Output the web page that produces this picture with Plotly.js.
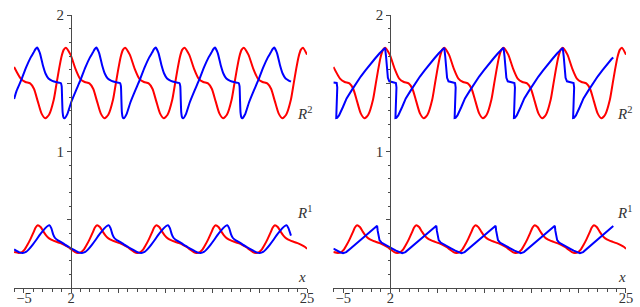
<!DOCTYPE html>
<html>
<head>
<meta charset="utf-8">
<script src="https://cdn.plot.ly/plotly-3.0.1.min.js"></script>
<style>
  html, body { margin: 0; padding: 0; background: #fff; }
  #chart { width: 640px; height: 307px; }
</style>
</head>
<body>
<div id="chart"></div>
<script>
// ---------- Data ----------
// Red curves (identical in both panels)
const redR2_x = [-6.04, -5.34, -4.84, -4.34, -3.94, -3.54, -3.14, -2.74, -2.34, -1.84, -1.54, -1.29, -1.04, -0.79,
  -0.56, -0.06, 0.44, 0.94, 1.44, 1.94, 2.34, 2.74, 3.14, 3.54, 3.94, 4.44, 4.74, 4.99, 5.24, 5.49,
  5.72, 6.22, 6.72, 7.22, 7.72, 8.22, 8.62, 9.02, 9.42, 9.82, 10.22, 10.72, 11.02, 11.27, 11.52, 11.77,
  12.01, 12.51, 13.01, 13.51, 14.01, 14.51, 14.91, 15.31, 15.71, 16.11, 16.51, 17.01, 17.31, 17.56, 17.81, 18.06,
  18.29, 18.79, 19.29, 19.79, 20.29, 20.79, 21.19, 21.59, 21.99, 22.39, 22.79, 23.29, 23.59, 23.84, 24.09, 24.34,
  24.57, 25.0];
const redR2_y = [1.62, 1.535, 1.51, 1.50, 1.46, 1.37, 1.28, 1.244, 1.27, 1.38, 1.50, 1.60, 1.69, 1.745,
  1.761, 1.71, 1.61, 1.535, 1.51, 1.50, 1.46, 1.37, 1.28, 1.244, 1.27, 1.38, 1.50, 1.60, 1.69, 1.745,
  1.761, 1.71, 1.61, 1.535, 1.51, 1.50, 1.46, 1.37, 1.28, 1.244, 1.27, 1.38, 1.50, 1.60, 1.69, 1.745,
  1.761, 1.71, 1.61, 1.535, 1.51, 1.50, 1.46, 1.37, 1.28, 1.244, 1.27, 1.38, 1.50, 1.60, 1.69, 1.745,
  1.761, 1.71, 1.61, 1.535, 1.51, 1.50, 1.46, 1.37, 1.28, 1.244, 1.27, 1.38, 1.50, 1.60, 1.69, 1.745,
  1.761, 1.71];

const redR1_x = [-6.04, -5.56, -5.21, -4.91, -4.61, -4.31, -4.01, -3.76,
  -3.53, -3.23, -2.93, -2.63, -2.33, -1.93, -1.53, -1.13, -0.73, -0.33, 0.07, 0.42, 0.72, 1.07, 1.37, 1.67, 1.97, 2.27, 2.52,
  2.75, 3.05, 3.35, 3.65, 3.95, 4.35, 4.75, 5.15, 5.55, 5.95, 6.35, 6.70, 7.00, 7.35, 7.65, 7.95, 8.25, 8.55, 8.80,
  9.04, 9.34, 9.64, 9.94, 10.24, 10.64, 11.04, 11.44, 11.84, 12.24, 12.64, 12.99, 13.29, 13.64, 13.94, 14.24, 14.54, 14.84, 15.09,
  15.32, 15.62, 15.92, 16.22, 16.52, 16.92, 17.32, 17.72, 18.12, 18.52, 18.92, 19.27, 19.57, 19.92, 20.22, 20.52, 20.82, 21.12, 21.37,
  21.6, 21.9, 22.2, 22.5, 22.8, 23.2, 23.6, 24.0, 24.4, 24.8, 25.0];
const redR1_y = [0.265, 0.259, 0.265, 0.285, 0.32, 0.36, 0.405, 0.445,
  0.462, 0.448, 0.415, 0.385, 0.365, 0.35, 0.34, 0.33, 0.318, 0.302, 0.282, 0.265, 0.259, 0.265, 0.285, 0.32, 0.36, 0.405, 0.445,
  0.462, 0.448, 0.415, 0.385, 0.365, 0.35, 0.34, 0.33, 0.318, 0.302, 0.282, 0.265, 0.259, 0.265, 0.285, 0.32, 0.36, 0.405, 0.445,
  0.462, 0.448, 0.415, 0.385, 0.365, 0.35, 0.34, 0.33, 0.318, 0.302, 0.282, 0.265, 0.259, 0.265, 0.285, 0.32, 0.36, 0.405, 0.445,
  0.462, 0.448, 0.415, 0.385, 0.365, 0.35, 0.34, 0.33, 0.318, 0.302, 0.282, 0.265, 0.259, 0.265, 0.285, 0.32, 0.36, 0.405, 0.445,
  0.462, 0.448, 0.415, 0.385, 0.365, 0.35, 0.34, 0.33, 0.318, 0.302, 0.288];

// Blue curves, left panel
const blueL2_x = [-6.04, -5.78, -5.28, -4.78, -4.28, -3.98, -3.78,
  -3.60, -3.30, -3.00, -2.70, -2.40, -2.00, -1.50, -1.10, -1.00, -0.95, -0.90, -0.80, -0.70, -0.40, 0.00, 0.50, 1.00, 1.50, 2.00, 2.30, 2.50,
  2.68, 2.98, 3.28, 3.58, 3.88, 4.28, 4.78, 5.18, 5.28, 5.33, 5.38, 5.48, 5.58, 5.88, 6.28, 6.78, 7.28, 7.78, 8.28, 8.58, 8.78,
  8.97, 9.27, 9.57, 9.87, 10.17, 10.57, 11.07, 11.47, 11.57, 11.62, 11.67, 11.77, 11.87, 12.17, 12.57, 13.07, 13.57, 14.07, 14.57, 14.87, 15.07,
  15.25, 15.55, 15.85, 16.15, 16.45, 16.85, 17.35, 17.75, 17.85, 17.90, 17.95, 18.05, 18.15, 18.45, 18.85, 19.35, 19.85, 20.35, 20.85, 21.15, 21.35,
  21.53, 21.83, 22.13, 22.43, 22.73, 23.13, 23.30];
const blueL2_y = [1.385, 1.445, 1.525, 1.615, 1.69, 1.725, 1.75,
  1.762, 1.72, 1.635, 1.57, 1.535, 1.518, 1.508, 1.503, 1.48, 1.38, 1.29, 1.25, 1.244, 1.275, 1.36, 1.445, 1.525, 1.615, 1.69, 1.725, 1.75,
  1.762, 1.72, 1.635, 1.57, 1.535, 1.518, 1.508, 1.503, 1.48, 1.38, 1.29, 1.25, 1.244, 1.275, 1.36, 1.445, 1.525, 1.615, 1.69, 1.725, 1.75,
  1.762, 1.72, 1.635, 1.57, 1.535, 1.518, 1.508, 1.503, 1.48, 1.38, 1.29, 1.25, 1.244, 1.275, 1.36, 1.445, 1.525, 1.615, 1.69, 1.725, 1.75,
  1.762, 1.72, 1.635, 1.57, 1.535, 1.518, 1.508, 1.503, 1.48, 1.38, 1.29, 1.25, 1.244, 1.275, 1.36, 1.445, 1.525, 1.615, 1.69, 1.725, 1.75,
  1.762, 1.72, 1.635, 1.57, 1.535, 1.518, 1.512];

const blueL1_x = [-6.04, -5.78, -5.48, -5.13, -4.78, -4.48, -4.08, -3.68, -3.28, -2.98, -2.68, -2.48,
  -2.30, -2.10, -1.90, -1.70, -1.40, -1.10, -0.70, -0.30, 0.10, 0.50, 0.80, 1.15, 1.50, 1.80, 2.20, 2.60, 3.00, 3.30, 3.60, 3.80,
  3.98, 4.18, 4.38, 4.58, 4.88, 5.18, 5.58, 5.98, 6.38, 6.78, 7.08, 7.43, 7.78, 8.08, 8.48, 8.88, 9.28, 9.58, 9.88, 10.08,
  10.27, 10.47, 10.67, 10.87, 11.17, 11.47, 11.87, 12.27, 12.67, 13.07, 13.37, 13.72, 14.07, 14.37, 14.77, 15.17, 15.57, 15.87, 16.17, 16.37,
  16.55, 16.75, 16.95, 17.15, 17.45, 17.75, 18.15, 18.55, 18.95, 19.35, 19.65, 20.00, 20.35, 20.65, 21.05, 21.45, 21.85, 22.15, 22.45, 22.65,
  22.83, 23.03, 23.30];
const blueL1_y = [0.285, 0.273, 0.263, 0.258, 0.266, 0.285, 0.318, 0.355, 0.395, 0.42, 0.444, 0.456,
  0.462, 0.44, 0.395, 0.368, 0.35, 0.34, 0.322, 0.305, 0.288, 0.273, 0.263, 0.258, 0.266, 0.285, 0.318, 0.355, 0.395, 0.42, 0.444, 0.456,
  0.462, 0.44, 0.395, 0.368, 0.35, 0.34, 0.322, 0.305, 0.288, 0.273, 0.263, 0.258, 0.266, 0.285, 0.318, 0.355, 0.395, 0.42, 0.444, 0.456,
  0.462, 0.44, 0.395, 0.368, 0.35, 0.34, 0.322, 0.305, 0.288, 0.273, 0.263, 0.258, 0.266, 0.285, 0.318, 0.355, 0.395, 0.42, 0.444, 0.456,
  0.462, 0.44, 0.395, 0.368, 0.35, 0.34, 0.322, 0.305, 0.288, 0.273, 0.263, 0.258, 0.266, 0.285, 0.318, 0.355, 0.395, 0.42, 0.444, 0.456,
  0.462, 0.44, 0.385];

// Blue curves, right panel
const blueR2_x = [-6.04, -5.69, -5.63, -5.65, -5.71, -5.74, -5.64, -5.44, -5.04, -4.64, -4.14, -3.64, -3.14, -2.64, -2.14, -1.64, -1.14, -0.84,
  -0.56, -0.46, -0.36, -0.26, -0.11, 0.24, 0.59, 0.65, 0.63, 0.57, 0.54, 0.64, 0.84, 1.24, 1.64, 2.14, 2.64, 3.14, 3.64, 4.14, 4.64, 5.14, 5.44,
  5.72, 5.82, 5.92, 6.02, 6.17, 6.52, 6.87, 6.93, 6.91, 6.85, 6.82, 6.92, 7.12, 7.52, 7.92, 8.42, 8.92, 9.42, 9.92, 10.42, 10.92, 11.42, 11.72,
  12.01, 12.11, 12.21, 12.31, 12.46, 12.81, 13.16, 13.22, 13.20, 13.14, 13.11, 13.21, 13.41, 13.81, 14.21, 14.71, 15.21, 15.71, 16.21, 16.71, 17.21, 17.71, 18.01,
  18.29, 18.39, 18.49, 18.59, 18.74, 19.09, 19.44, 19.50, 19.48, 19.42, 19.39, 19.49, 19.69, 20.09, 20.49, 20.99, 21.49, 21.99, 22.49, 22.99, 23.49, 23.65];
const blueR2_y = [1.507, 1.503, 1.47, 1.36, 1.28, 1.246, 1.247, 1.265, 1.325, 1.39, 1.445, 1.50, 1.55, 1.595, 1.64, 1.68, 1.72, 1.742,
  1.76, 1.70, 1.60, 1.54, 1.515, 1.507, 1.503, 1.47, 1.36, 1.28, 1.246, 1.247, 1.265, 1.325, 1.39, 1.445, 1.50, 1.55, 1.595, 1.64, 1.68, 1.72, 1.742,
  1.76, 1.70, 1.60, 1.54, 1.515, 1.507, 1.503, 1.47, 1.36, 1.28, 1.246, 1.247, 1.265, 1.325, 1.39, 1.445, 1.50, 1.55, 1.595, 1.64, 1.68, 1.72, 1.742,
  1.76, 1.70, 1.60, 1.54, 1.515, 1.507, 1.503, 1.47, 1.36, 1.28, 1.246, 1.247, 1.265, 1.325, 1.39, 1.445, 1.50, 1.55, 1.595, 1.64, 1.68, 1.72, 1.742,
  1.76, 1.70, 1.60, 1.54, 1.515, 1.507, 1.503, 1.47, 1.36, 1.28, 1.246, 1.247, 1.265, 1.325, 1.39, 1.445, 1.50, 1.55, 1.595, 1.64, 1.68, 1.69];

const blueR1_x = [-6.04, -5.68, -5.33, -5.02, -4.68, -4.28, -3.88, -3.48, -3.08, -2.68, -2.28, -1.88, -1.58,
  -1.40, -1.34, -1.26, -1.15, -0.95, -0.60, -0.20, 0.20, 0.60, 0.95, 1.26, 1.60, 2.00, 2.40, 2.80, 3.20, 3.60, 4.00, 4.40, 4.70,
  4.88, 4.94, 5.02, 5.13, 5.33, 5.68, 6.08, 6.48, 6.88, 7.23, 7.54, 7.88, 8.28, 8.68, 9.08, 9.48, 9.88, 10.28, 10.68, 10.98,
  11.17, 11.23, 11.31, 11.42, 11.62, 11.97, 12.37, 12.77, 13.17, 13.52, 13.83, 14.17, 14.57, 14.97, 15.37, 15.77, 16.17, 16.57, 16.97, 17.27,
  17.45, 17.51, 17.59, 17.70, 17.90, 18.25, 18.65, 19.05, 19.45, 19.80, 20.11, 20.45, 20.85, 21.25, 21.65, 22.05, 22.45, 22.85, 23.25, 23.65];
const blueR1_y = [0.29, 0.275, 0.264, 0.257, 0.265, 0.288, 0.312, 0.335, 0.36, 0.383, 0.405, 0.428, 0.447,
  0.457, 0.42, 0.375, 0.352, 0.335, 0.32, 0.302, 0.29, 0.275, 0.264, 0.257, 0.265, 0.288, 0.312, 0.335, 0.36, 0.383, 0.405, 0.428, 0.447,
  0.457, 0.42, 0.375, 0.352, 0.335, 0.32, 0.302, 0.29, 0.275, 0.264, 0.257, 0.265, 0.288, 0.312, 0.335, 0.36, 0.383, 0.405, 0.428, 0.447,
  0.457, 0.42, 0.375, 0.352, 0.335, 0.32, 0.302, 0.29, 0.275, 0.264, 0.257, 0.265, 0.288, 0.312, 0.335, 0.36, 0.383, 0.405, 0.428, 0.447,
  0.457, 0.42, 0.375, 0.352, 0.335, 0.32, 0.302, 0.29, 0.275, 0.264, 0.257, 0.265, 0.288, 0.312, 0.335, 0.36, 0.383, 0.405, 0.428, 0.455];

// Tick labels (labelled ticks) and unlabelled major ticks
const xTickVals = [-5, 0, 25];
const xTickText = ['\u22125', '2', '25'];
const xMajorPlain = [5, 10, 15, 20];
const yTickVals = [1, 2];
const yTickText = ['1', '2'];
const yMajorPlain = [0.5, 1.5];
const curveLabels = ['<i>R</i><sup>2</sup>', '<i>R</i><sup>1</sup>', '<i>x</i>'];

// ---------- Styling ----------
const RED = '#ff0000', BLUE = '#0000ff';
const AX = '#4a4a4a', TXT = '#333333';
const FONT = '"Liberation Serif", "DejaVu Serif", serif';
const xRange = [-6.05, 25];
const yRange = [0, 2];
const domL = [0.0219, 0.4797];
const domR = [0.5208, 0.9781];
const yDom = [0.061, 0.951];

function yPos(dom) {
  return dom[0] + (0 - xRange[0]) / (xRange[1] - xRange[0]) * (dom[1] - dom[0]);
}

function tr(x, y, color, xa, ya, shape, sm) {
  return { x: x, y: y, type: 'scatter', mode: 'lines', xaxis: xa, yaxis: ya,
    line: { color: color, width: 2, shape: shape || 'linear', smoothing: sm || 0.6 },
    hoverinfo: 'skip', showlegend: false, cliponaxis: false };
}

const data = [
  tr(redR2_x, redR2_y, RED, 'x', 'y', 'spline'),
  tr(redR1_x, redR1_y, RED, 'x', 'y', 'spline'),
  tr(blueL2_x, blueL2_y, BLUE, 'x', 'y', 'spline', 0.4),
  tr(blueL1_x, blueL1_y, BLUE, 'x', 'y', 'spline'),
  tr(redR2_x, redR2_y, RED, 'x2', 'y2', 'spline'),
  tr(redR1_x, redR1_y, RED, 'x2', 'y2', 'spline'),
  tr(blueR2_x, blueR2_y, BLUE, 'x2', 'y2'),
  tr(blueR1_x, blueR1_y, BLUE, 'x2', 'y2')
];

const minorX = { tickmode: 'linear', tick0: 0, dtick: 1, ticks: 'outside', ticklen: 2.5, tickcolor: AX, showgrid: false };
const minorY = { tickmode: 'linear', tick0: 0, dtick: 0.1, ticks: 'outside', ticklen: 2.5, tickcolor: AX, showgrid: false };

function xAxis(dom, anchor) {
  return { domain: dom, range: xRange, anchor: anchor, showgrid: false, zeroline: false,
    showline: true, linecolor: AX, linewidth: 1,
    tickmode: 'array', tickvals: xTickVals, ticktext: xTickText,
    ticks: 'outside', ticklen: 4, tickcolor: AX, tickwidth: 1, ticklabelstandoff: -8,
    minor: minorX,
    tickfont: { family: FONT, size: 14.5, color: TXT }, fixedrange: true };
}
function xAxisPlain(dom, anchor, over) {
  return { domain: dom, range: xRange, anchor: anchor, overlaying: over, showgrid: false, zeroline: false,
    showline: false, showticklabels: false,
    tickmode: 'array', tickvals: xMajorPlain,
    ticks: 'outside', ticklen: 4, tickcolor: AX, tickwidth: 1, fixedrange: true };
}
function yAxis(dom) {
  return { domain: yDom, range: yRange, anchor: 'free', position: yPos(dom), showgrid: false, zeroline: false,
    showline: true, linecolor: AX, linewidth: 1,
    tickmode: 'array', tickvals: yTickVals, ticktext: yTickText,
    ticks: 'outside', ticklen: 4, tickcolor: AX, tickwidth: 1,
    minor: minorY,
    tickfont: { family: FONT, size: 15, color: TXT }, fixedrange: true };
}
function yAxisPlain(dom, over) {
  return { domain: yDom, range: yRange, anchor: 'free', position: yPos(dom), overlaying: over, showgrid: false, zeroline: false,
    showline: false, showticklabels: false,
    tickmode: 'array', tickvals: yMajorPlain,
    ticks: 'outside', ticklen: 4, tickcolor: AX, tickwidth: 1, fixedrange: true };
}

function labels(xRight, xRightX) {
  const f = { family: FONT, size: 15, color: TXT };
  return [
    { text: curveLabels[0], xref: 'paper', yref: 'paper', x: xRight, y: 0.632, xanchor: 'right', yanchor: 'middle', showarrow: false, font: f },
    { text: curveLabels[1], xref: 'paper', yref: 'paper', x: xRight, y: 0.3105, xanchor: 'right', yanchor: 'middle', showarrow: false, font: f },
    { text: curveLabels[2], xref: 'paper', yref: 'paper', x: xRightX, y: 0.098, xanchor: 'right', yanchor: 'middle', showarrow: false, font: f }
  ];
}

// invisible traces to attach the unlabelled-tick overlay axes
const anchorTraces = [
  { x: [], y: [], type: 'scatter', mode: 'lines', xaxis: 'x3', yaxis: 'y3', hoverinfo: 'skip', showlegend: false },
  { x: [], y: [], type: 'scatter', mode: 'lines', xaxis: 'x4', yaxis: 'y4', hoverinfo: 'skip', showlegend: false }
];

const layout = {
  width: 640, height: 307,
  margin: { l: 0, r: 0, t: 0, b: 0, pad: 0 },
  paper_bgcolor: '#ffffff', plot_bgcolor: 'rgba(0,0,0,0)',
  showlegend: false,
  xaxis: xAxis(domL, 'y'),
  yaxis: yAxis(domL),
  xaxis2: xAxis(domR, 'y2'),
  yaxis2: yAxis(domR),
  xaxis3: xAxisPlain(domL, 'y', 'x'),
  yaxis3: yAxisPlain(domL, 'y'),
  xaxis4: xAxisPlain(domR, 'y2', 'x2'),
  yaxis4: yAxisPlain(domR, 'y2'),
  annotations: labels(0.4906, 0.4817).concat(labels(0.9906, 0.9817))
};

Plotly.newPlot('chart', data.concat(anchorTraces), layout, { staticPlot: true, displayModeBar: false });
</script>
</body>
</html>
